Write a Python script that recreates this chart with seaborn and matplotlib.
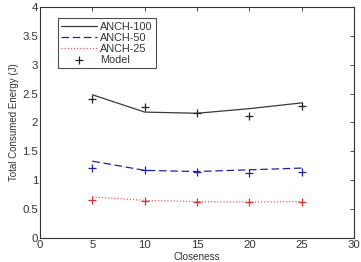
import numpy as np
import pandas as pd
import matplotlib
matplotlib.use("Agg")
import matplotlib.pyplot as plt
import seaborn as sns

closeness = [5, 10, 15, 20, 25]
anch100 = [2.48, 2.18, 2.16, 2.24, 2.34]
anch50 = [1.33, 1.17, 1.15, 1.18, 1.21]
anch25 = [0.71, 0.65, 0.63, 0.62, 0.63]
model100 = [2.41, 2.27, 2.16, 2.12, 2.29]
model50 = [1.21, 1.18, 1.15, 1.12, 1.14]
model25 = [0.66, 0.64, 0.63, 0.62, 0.63]

sns.set_style("white")
plt.rcParams['font.family'] = ['Liberation Sans', 'DejaVu Sans']

lines = pd.DataFrame({
    "x": closeness * 3,
    "y": anch100 + anch50 + anch25,
    "series": ["ANCH-100"] * 5 + ["ANCH-50"] * 5 + ["ANCH-25"] * 5,
})
models = pd.DataFrame({
    "x": closeness * 3,
    "y": model100 + model50 + model25,
    "grp": ["k"] * 5 + ["b"] * 5 + ["r"] * 5,
})

fig = plt.figure(figsize=(3.61, 2.62), dpi=100)
ax = fig.add_axes([0.111, 0.092, 0.870, 0.881])

palette = {"ANCH-100": "#3a3a3a", "ANCH-50": "#2020b0", "ANCH-25": "#e06060"}
styles = {"ANCH-100": "-", "ANCH-50": (0, (6, 3)), "ANCH-25": (0, (1, 1.5))}
for name in ["ANCH-100", "ANCH-50", "ANCH-25"]:
    sub = lines[lines["series"] == name]
    sns.lineplot(data=sub, x="x", y="y", ax=ax, color=palette[name],
                 linestyle=styles[name], linewidth=0.9, label=name)

mcol = {"k": "#222222", "b": "#2020b0", "r": "#e03030"}
for g in ["k", "b", "r"]:
    sub = models[models["grp"] == g]
    ax.scatter(sub["x"], sub["y"], marker="+", s=30, linewidths=0.9,
               color=mcol[g], label="Model" if g == "k" else None, zorder=3)

ax.set_xlim(0, 30)
ax.set_ylim(0, 4)
ax.set_xticks(range(0, 31, 5))
ax.set_yticks(np.arange(0, 4.01, 0.5))
ax.set_yticklabels(["0", "0.5", "1", "1.5", "2", "2.5", "3", "3.5", "4"])
ax.tick_params(direction="in", length=3, width=0.6, labelsize=8.2,
               top=True, right=True, colors="#333333", labelcolor="#333333",
               pad=1.5)
for s in ax.spines.values():
    s.set_color("#333333")
    s.set_linewidth(0.8)
ax.set_xlabel("Closeness", fontsize=7.2, color="#333333", va="bottom")
ax.xaxis.set_label_coords(0.546, 0.0, transform=fig.transFigure)
ax.set_ylabel("Total Consumed Energy (J)", fontsize=7, labelpad=2,
              color="#333333")

leg = ax.legend(loc="upper left", bbox_to_anchor=(0.04, 0.975), fontsize=7.8,
                frameon=True, fancybox=False, edgecolor="#222222",
                handlelength=3.3, borderpad=0.3, labelspacing=0.1,
                handletextpad=0.3)
leg.get_frame().set_linewidth(0.8)
for t in leg.get_texts():
    t.set_color("#333333")

fig.savefig("out.png", dpi=100)
